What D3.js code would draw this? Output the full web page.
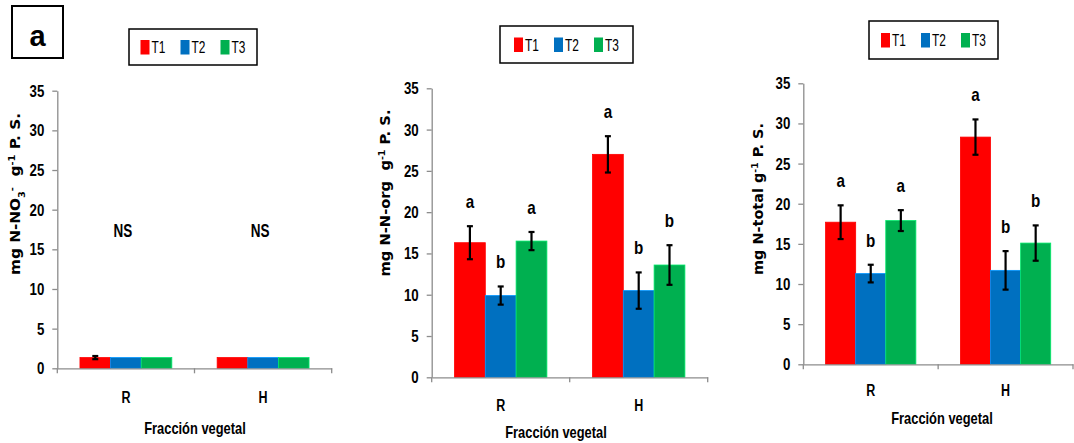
<!DOCTYPE html>
<html lang="es">
  <head>
    <meta charset="UTF-8" />
    <title>Nitrógeno por fracción vegetal</title>
    <script src="https://d3js.org/d3.v7.min.js"></script>
    <style>
      body {
        margin: 0;
        background: #fff;
      }
      svg {
        display: block;
      }
      .num {
        font-family: "Liberation Sans", Arial, sans-serif;
        font-weight: bold;
      }
      .ylab {
        font-family: "DejaVu Sans", Verdana, sans-serif;
        font-weight: bold;
        font-size: 14px;
      }
      .axis path,
      .axis line {
        stroke: #8c8c8c;
        stroke-width: 1.3;
      }
    </style>
  </head>
  <body>
    <svg width="1074" height="443"></svg>
    <script>
      // categories / series
      const categories = ["R", "H"];
      const series = ["T1", "T2", "T3"];
      const colors = ["#FF0000", "#0070C0", "#00B050"];
      const yTicks = [0, 5, 10, 15, 20, 25, 30, 35];

      // panel 1: N-NO3-
      const nitrateValues = [[1.35, 1.35, 1.35], [1.35, 1.35, 1.35]];
      const nitrateErrors = [[0.2, 0, 0], [0, 0, 0]];
      const nitrateGroupLabels = ["NS", "NS"];

      // panel 2: N-org
      const orgValues = [[16.3, 9.9, 16.5], [27.0, 10.5, 13.6]];
      const orgErrors = [[2.0, 1.1, 1.1], [2.2, 2.2, 2.4]];
      const orgLetters = [["a", "b", "a"], ["a", "b", "b"]];

      // panel 3: N-total
      const totalValues = [[17.7, 11.3, 17.9], [28.3, 11.7, 15.1]];
      const totalErrors = [[2.1, 1.1, 1.3], [2.2, 2.4, 2.2]];
      const totalLetters = [["a", "b", "a"], ["a", "b", "b"]];

      const svg = d3.select("svg");

      // squeeze text horizontally (the original uses a narrow font)
      function condense(sel, f) {
        sel.each(function () {
          const w = this.getComputedTextLength();
          d3.select(this).attr("textLength", w * f).attr("lengthAdjust", "spacingAndGlyphs");
        });
      }

      // panel tag "a"
      svg.append("rect")
        .attr("x", 12).attr("y", 6).attr("width", 51).attr("height", 52)
        .attr("fill", "none").attr("stroke", "#000").attr("stroke-width", 2);
      svg.append("text")
        .attr("x", 37.5).attr("y", 46)
        .attr("text-anchor", "middle")
        .style("font-family", "Liberation Sans, Arial, sans-serif")
        .style("font-weight", "bold")
        .style("font-size", "29px")
        .text("a");

      const panels = [
        {
          values: nitrateValues, errors: nitrateErrors, letters: null, groupLabels: nitrateGroupLabels,
          left: 57.3, right: 331.7, top: 90.7, bottom: 368.3,
          ylab: { x: 15, y: 194, len: 162, parts: [["mg N-NO", 0], ["3", -1], ["-", 1], ["  g", 0], ["-1", 1], [" P. S.", 0]] },
          legend: { x: 129, y: 29, w: 128, h: 36 },
          catY: 397, titleX: 195, titleY: 428
        },
        {
          values: orgValues, errors: orgErrors, letters: orgLetters,
          left: 431.7, right: 707.7, top: 88.3, bottom: 377.3,
          ylab: { x: 385, y: 193, len: 167, parts: [["mg N-N-org  g", 0], ["-1", 1], [" P. S.", 0]] },
          legend: { x: 500, y: 26, w: 133, h: 37 },
          catY: 405, titleX: 556, titleY: 432
        },
        {
          values: totalValues, errors: totalErrors, letters: totalLetters,
          left: 803.3, right: 1073, top: 83.3, bottom: 364.3,
          ylab: { x: 758, y: 199, len: 152, parts: [["mg N-total g", 0], ["-1", 1], [" P. S.", 0]] },
          legend: { x: 869, y: 21, w: 129, h: 38 },
          catY: 390, titleX: 942, titleY: 418
        }
      ];

      panels.forEach((p) => {
        const g = svg.append("g");

        const x0 = d3.scaleBand().domain(categories).range([p.left, p.right]).padding(0);
        const x1 = d3.scaleBand().domain(series).range([0, x0.bandwidth()])
          .paddingInner(0).paddingOuter(0.74);
        const y = d3.scaleLinear().domain([0, 35]).range([p.bottom, p.top]);

        // y axis
        const ya = g.append("g")
          .attr("class", "axis")
          .attr("transform", `translate(${p.left},0)`)
          .call(d3.axisLeft(y).tickValues(yTicks).tickSize(5).tickSizeOuter(0).tickPadding(8));
        ya.selectAll("text")
          .attr("class", "num")
          .style("font-size", "17px")
          .attr("fill", "#000")
          .call(condense, 0.78);

        // bars
        categories.forEach((c, ci) => {
          series.forEach((s, si) => {
            const v = p.values[ci][si];
            g.append("rect")
              .attr("x", x0(c) + x1(s))
              .attr("y", y(v))
              .attr("width", x1.bandwidth())
              .attr("height", y(0) - y(v))
              .attr("fill", colors[si])
              .attr("stroke", d3.color(colors[si]).brighter(0.8))
              .attr("stroke-width", 0.8);
          });
        });

        // x axis
        const xa = g.append("g")
          .attr("class", "axis")
          .attr("transform", `translate(0,${p.bottom})`)
          .call(d3.axisBottom(x0).tickSize(0).tickSizeOuter(0)
            .tickPadding(p.catY - p.bottom - 0.36 * 16));
        xa.selectAll("text")
          .attr("class", "num")
          .style("font-size", "16px")
          .attr("fill", "#000")
          .call(condense, 0.78);
        // category boundary ticks
        const bounds = [p.left].concat(categories.map((c) => x0(c) + x0.bandwidth()));
        xa.selectAll(".bound")
          .data(bounds)
          .enter()
          .append("line")
          .attr("class", "bound")
          .attr("x1", (d) => d).attr("x2", (d) => d)
          .attr("y1", 0).attr("y2", 5);

        // error bars + letters
        categories.forEach((c, ci) => {
          series.forEach((s, si) => {
            const v = p.values[ci][si];
            const e = p.errors[ci][si];
            const cx = x0(c) + x1(s) + x1.bandwidth() / 2;
            if (e > 0) {
              const eg = g.append("g").attr("stroke", "#000").attr("stroke-width", 2.2);
              eg.append("line").attr("x1", cx).attr("x2", cx).attr("y1", y(v + e)).attr("y2", y(v - e));
              eg.append("line").attr("x1", cx - 3).attr("x2", cx + 3).attr("y1", y(v + e)).attr("y2", y(v + e));
              eg.append("line").attr("x1", cx - 3).attr("x2", cx + 3).attr("y1", y(v - e)).attr("y2", y(v - e));
            }
            if (p.letters) {
              g.append("text")
                .attr("class", "num")
                .attr("x", cx)
                .attr("y", y(v + e) - 18)
                .attr("text-anchor", "middle")
                .style("font-size", "19px")
                .text(p.letters[ci][si])
                .call(condense, 0.8);
            }
          });
          if (p.groupLabels) {
            g.append("text")
              .attr("class", "num")
              .attr("x", x0(c) + x0.bandwidth() / 2 - 3)
              .attr("y", y(17.4) + 6.5)
              .attr("text-anchor", "middle")
              .style("font-size", "18px")
              .text(p.groupLabels[ci])
              .call(condense, 0.75);
          }
        });

        // y label
        const yl = g.append("text")
          .attr("class", "ylab")
          .attr("transform", `translate(${p.ylab.x},${p.ylab.y}) rotate(-90)`)
          .attr("text-anchor", "middle")
          .attr("dy", "0.35em")
          .attr("textLength", p.ylab.len)
          .attr("lengthAdjust", "spacingAndGlyphs");
        p.ylab.parts.forEach(([t, shift]) => {
          const ts = yl.append("tspan").text(t).style("white-space", "pre");
          if (shift !== 0) {
            ts.attr("baseline-shift", shift > 0 ? "super" : "sub").style("font-size", "9px");
          }
        });

        // x title
        g.append("text")
          .attr("class", "num")
          .attr("x", p.titleX)
          .attr("y", p.titleY + 6)
          .attr("text-anchor", "middle")
          .style("font-size", "16.5px")
          .text("Fracción vegetal")
          .call(condense, 0.78);

        // legend
        const L = p.legend;
        const lg = g.append("g").attr("transform", `translate(${L.x},${L.y})`);
        lg.append("rect")
          .attr("width", L.w).attr("height", L.h)
          .attr("fill", "#fff").attr("stroke", "#000").attr("stroke-width", 1.5);
        const step = 40;
        const startX = (L.w - (2 * step + 25)) / 2;
        series.forEach((s, si) => {
          const ix = startX + si * step;
          lg.append("rect")
            .attr("x", ix).attr("y", L.h / 2 - 7)
            .attr("width", 9).attr("height", 14.5)
            .attr("fill", colors[si]);
          lg.append("text")
            .attr("x", ix + 11).attr("y", L.h / 2 + 6)
            .style("font-family", "Liberation Sans, Arial, sans-serif")
            .style("font-size", "17px")
            .text(s)
            .call(condense, 0.7);
        });
      });
    </script>
  </body>
</html>
